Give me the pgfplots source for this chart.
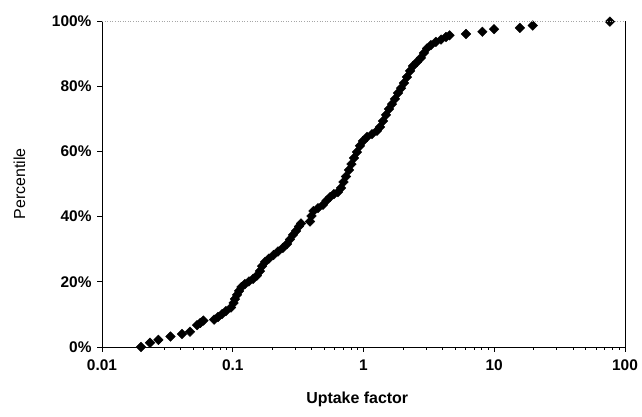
\documentclass[border=0pt]{standalone}
\usepackage{pgfplots}
\pgfplotsset{compat=1.18}
\usepackage{fontspec}
\setmainfont{Liberation Sans}
\begin{document}
\begin{tikzpicture}
\begin{axis}[
  scale only axis, width=523bp, height=326bp,
  xmode=log, xmin=0.01, xmax=100, ymin=0, ymax=100,
  xtick={0.01,0.1,1,10,100}, xticklabels={0.01,0.1,1,10,100},
  minor xtick={},
  ytick={0,20,40,60,80,100}, yticklabels={0\%,20\%,40\%,60\%,80\%,100\%},
  tick align=outside, xtick pos=bottom, ytick pos=left,
  major tick length=5bp,
  tick style={black, line width=0.6pt},
  ticklabel style={font=\fontsize{15.5}{15.5}\selectfont\bfseries},
  xticklabel style={yshift=-4bp},
  yticklabel style={xshift=-2bp},
  xlabel={Uptake factor}, ylabel={Percentile},
  xlabel style={font=\fontsize{16}{16}\selectfont\bfseries, at={(axis description cs:0.488,-0.1595)}, anchor=center},
  ylabel style={font=\fontsize{16}{16}\selectfont, at={(axis description cs:-0.158,0.5)}, anchor=center},
  axis line style={draw=none},
  clip=false,
]
\addplot[only marks, mark=square*, mark options={rotate=45, fill=black, draw=black}, mark size=3.4bp] coordinates {
(0.0199,0) (0.0233,1.3) (0.0270,2.2) (0.0334,3.2) (0.0409,4.0) (0.0471,4.7)
(0.0533,6.7) (0.0565,7.4) (0.0597,8.1)
(0.0720,8.4) (0.0771,9.2) (0.0828,10.1) (0.0887,11.0)
(0.0970,12.1) (0.1015,13.5) (0.104,14.7) (0.1078,16.0) (0.1117,17.2) (0.1167,18.4)
(0.124,19.3) (0.133,20.1) (0.143,20.9) (0.153,21.9) (0.1614,23.3) (0.1675,24.8)
(0.1766,26.1) (0.189,27.1) (0.205,28.2) (0.222,29.3) (0.242,30.4) (0.260,31.6)
(0.274,33.0) (0.289,34.4) (0.305,35.6) (0.321,37.0) (0.333,37.9)
(0.390,38.5) (0.400,40.2) (0.414,41.7) (0.449,42.6) (0.490,43.6) (0.521,44.9)
(0.555,46.0) (0.594,46.9) (0.638,47.5) (0.673,48.8) (0.703,50.6) (0.734,52.3)
(0.774,54.3) (0.809,56.1) (0.846,58.0) (0.891,59.8) (0.94,61.7) (0.991,63.2)
(1.064,64.4) (1.162,65.3) (1.268,66.3) (1.337,67.5) (1.410,69.3) (1.486,71.2)
(1.567,73.0) (1.652,74.5) (1.741,76.1) (1.837,77.9) (1.937,79.4) (2.04,81.0)
(2.15,82.8) (2.27,84.7) (2.39,86.2) (2.56,87.4) (2.75,88.7) (2.90,90.2)
(3.06,91.6) (3.28,92.6) (3.58,93.6) (3.92,94.3) (4.28,95.1) (4.55,95.6)
(6.08,96.0) (8.11,96.7) (9.96,97.5) (15.7,97.9) (19.7,98.6) (76.7,99.8)
};
\coordinate (ll) at (rel axis cs:0,0);
\coordinate (ur) at (rel axis cs:1,1);
\end{axis}
\draw[line width=0.8pt] (ll|-ur) -- (ll) -- (ll-|ur) -- (ur);
\draw[dotted, gray!70, line width=0.6pt] (ll|-ur) -- (ur);
\pgfresetboundingbox
\path ([shift={(-102bp,-70bp)}]ll) rectangle ([shift={(17bp,21bp)}]ur);
\end{tikzpicture}
\end{document}
